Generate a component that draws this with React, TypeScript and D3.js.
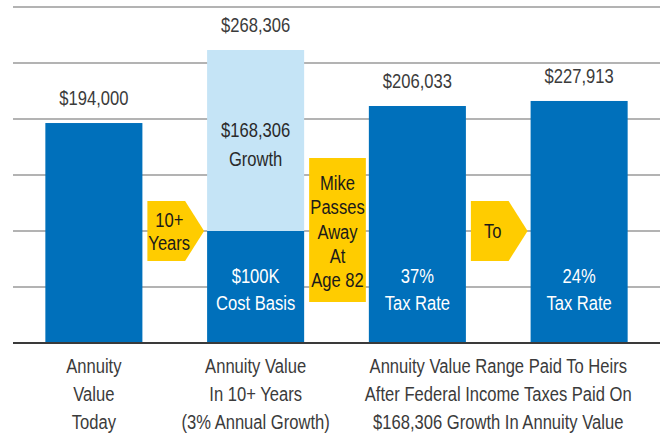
import React from "react";
import * as d3 from "d3";

// ---- data ----
const barKeys = ["today", "tenYears", "tax37", "tax24"];
// plotted bar heights (each gridline = 50,000)
const baseHeights = [196400, 100000, 211600, 216100];
const growthHeights = [0, 161600, 0, 0];
// printed values
const labelValues = [194000, 268306, 206033, 227913];
const innerLabels: string[][] = [[], ["$100K", "Cost Basis"], ["37%", "Tax Rate"], ["24%", "Tax Rate"]];
const growthLabel = ["$168,306", "Growth"];
const categoryLabels: { span: number[]; lines: string[] }[] = [
  { span: [0], lines: ["Annuity", "Value", "Today"] },
  { span: [1], lines: ["Annuity Value", "In 10+ Years", "(3% Annual Growth)"] },
  { span: [2, 3], lines: ["Annuity Value Range Paid To Heirs", "After Federal Income Taxes Paid On", "$168,306 Growth In Annuity Value"] },
];
const callouts: { after: number; lines: string[]; shape: "arrow" | "box" }[] = [
  { after: 0, lines: ["10+", "Years"], shape: "arrow" },
  { after: 1, lines: ["Mike", "Passes", "Away", "At", "Age 82"], shape: "box" },
  { after: 2, lines: ["To"], shape: "arrow" },
];
const gridTicks = [0, 50000, 100000, 150000, 200000, 250000, 300000];

const W = 660;
const H = 434;
const FONT = "'Liberation Sans', Arial, sans-serif";
const FS = 21;
const SX = 0.79;
const BLUE = "#0070BB";
const LIGHT = "#C5E4F6";
const YELLOW = "#FFCC00";
const TEXT = "#3b3b3b";

function CText({ x, y, children, fill }: { x: number; y: number; children: React.ReactNode; fill: string }) {
  return (
    <text transform={`translate(${x},${y}) scale(${SX},1)`} textAnchor="middle" fontSize={FS} fill={fill}>
      {children}
    </text>
  );
}

export default function App() {
  const x = d3.scaleBand<string>().domain(barKeys).range([13, 660]).paddingInner(0.4).paddingOuter(0.2);
  const y = d3.scaleLinear().domain([0, 300000]).range([343, 7]);
  const fmt = d3.format("$,");
  const bw = x.bandwidth();

  return (
    <svg width={W} height={H} style={{ position: "absolute", left: 0, top: 0, background: "#fff" }} fontFamily={FONT}>
      {gridTicks.slice(1).map((t) => (
        <line key={t} x1={13} x2={660} y1={y(t)} y2={y(t)} stroke="#9a9a9a" strokeWidth={1.3} />
      ))}
      {barKeys.map((k, i) => {
        const x0 = x(k)!;
        const baseTop = y(baseHeights[i]);
        const top = y(baseHeights[i] + growthHeights[i]);
        const cx = x0 + bw / 2;
        return (
          <g key={k}>
            <rect x={x0} y={baseTop} width={bw} height={y(0) - baseTop} fill={BLUE} />
            {growthHeights[i] > 0 && (
              <rect x={x0} y={top} width={bw} height={baseTop - top} fill={LIGHT} />
            )}
            <CText x={cx} y={top - 18} fill={TEXT}>
              {fmt(labelValues[i])}
            </CText>
            {innerLabels[i].map((l, j) => (
              <CText key={j} x={cx} y={283 + j * 27} fill="#fff">
                {l}
              </CText>
            ))}
            {growthHeights[i] > 0 &&
              growthLabel.map((l, j) => (
                <CText key={"g" + j} x={cx} y={137 + j * 29} fill="#2a2a2a">
                  {l}
                </CText>
              ))}
          </g>
        );
      })}
      <line x1={13} x2={660} y1={y(0)} y2={y(0)} stroke="#3a3a3a" strokeWidth={2.2} />
      {callouts.map((c, i) => {
        const left = x(barKeys[c.after])! + bw + 5;
        const right = x(barKeys[c.after + 1])! - 3;
        const cx = (left + right) / 2;
        if (c.shape === "arrow") {
          const t = 201, b = 261, mid = (t + b) / 2;
          const body = right - 19;
          const pts = [[left, t], [body, t], [right, mid], [body, b], [left, b]];
          const tx = (left + body) / 2 + 3;
          const n = c.lines.length;
          return (
            <g key={i}>
              <polygon points={pts.map((p) => p.join(",")).join(" ")} fill={YELLOW} />
              {c.lines.map((l, j) => (
                <CText key={j} x={tx} y={mid + 7 + (j - (n - 1) / 2) * 23} fill="#1a1a1a">
                  {l}
                </CText>
              ))}
            </g>
          );
        }
        const t = 158, b = 302;
        return (
          <g key={i}>
            <rect x={left} y={t} width={right - left} height={b - t} fill={YELLOW} />
            {c.lines.map((l, j) => (
              <CText key={j} x={cx} y={190 + j * 24.3} fill="#1a1a1a">
                {l}
              </CText>
            ))}
          </g>
        );
      })}
      {categoryLabels.map((c, i) => {
        const xs = c.span.map((k) => x(barKeys[k])! + bw / 2);
        const cx = d3.mean(xs)!;
        return (
          <g key={i}>
            {c.lines.map((l, j) => (
              <CText key={j} x={cx} y={373 + j * 28} fill={TEXT}>
                {l}
              </CText>
            ))}
          </g>
        );
      })}
    </svg>
  );
}
